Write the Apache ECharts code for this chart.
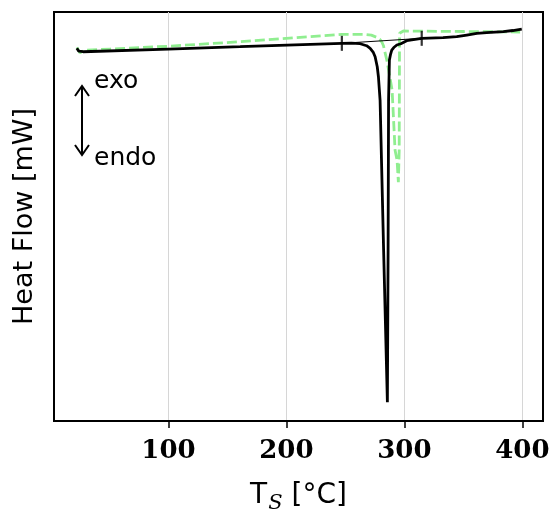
<!DOCTYPE html>
<html>
<head>
<meta charset="utf-8">
<script src="https://cdn.jsdelivr.net/npm/echarts@6/dist/echarts.min.js"></script>
<style>
html,body{margin:0;padding:0;background:#fff;}
#c{width:550px;height:509px;}
</style>
</head>
<body>
<div id="c"></div>
<script>
// Sample 1 (black, solid): temperature [°C], heat flow [arb.]
const blackT = [22.4,24.0,27.7,100,160.8,247,255,262.5,268,271,273.5,275.2,277,278,279.4,282.4,285.6,286.2,286.6,287.3,288.2,289.3,291,293.6,297,302,314.7,332.8,344.4,352.9,361.4,369.8,383.9,392,399.5];
const blackHF = [372.4,369.5,369.0,371.7,374.0,377.4,377.6,377.0,375.0,372.4,368.7,364.0,354.0,344.0,320.7,170.7,18.7,170.7,320.7,360.7,366.0,370.7,373.2,375.7,377.0,380.0,382.4,383.0,384.0,385.7,387.4,388.0,389.0,390.2,391.7];
// Sample 2 (light green, dashed)
const greenT = [22.4,25.0,29.0,50.6,100,160.8,247,265.3,272,276.6,279,280.8,282.3,283.1,285.1,289.6,292.1,293.8,294.9,295.6,295.9,297,299.2,350,398.1];
const greenHF = [373.4,368.0,370.5,371.7,374.5,379.0,386.4,386.4,385.6,383.4,381.5,379.0,375.0,370.7,360.7,330.7,270.7,260.7,238.7,270.7,387.4,389.0,389.7,389.2,388.7];
// Onset / endset markers on sample 1 and the interpolated baseline between them
const markT = [247, 314.7];
const markHF = [377.4, 382.4];
const xTicks = [100, 200, 300, 400];

const zip = (a, b) => a.map((v, i) => [v, b[i]]);

const chart = echarts.init(document.getElementById('c'), null, {renderer: 'canvas'});
chart.setOption({
  animation: false,
  backgroundColor: '#ffffff',
  grid: {left: 54, right: 7, top: 12, bottom: 88, outerBoundsMode: 'none', containLabel: false,
    show: true, borderColor: '#000', borderWidth: 2, backgroundColor: 'transparent'},
  xAxis: {
    type: 'value', min: 3, max: 417.5, splitNumber: 4,
    axisLine: {show: true, lineStyle: {color: '#000', width: 2}},
    axisTick: {show: true, length: 7, customValues: xTicks, lineStyle: {color: '#000', width: 1.5}},
    axisLabel: {show: true, customValues: xTicks, margin: 17, color: '#000',
      fontFamily: 'DejaVu Serif', fontWeight: 'bold', fontSize: 26},
    splitLine: {show: true, lineStyle: {color: '#d6d6d6', width: 1}},
    name: '{a|T}{s|S}{a| [°C]}', nameLocation: 'middle', nameGap: 57,
    nameTextStyle: {rich: {
      a: {fontFamily: 'DejaVu Sans', fontSize: 28, color: '#000'},
      s: {fontFamily: 'DejaVu Serif', fontStyle: 'italic', fontSize: 21, color: '#000', padding: [15, 0, 0, 1]}
    }}
  },
  yAxis: {
    type: 'value', min: 0, max: 408.7,
    axisLine: {show: true, lineStyle: {color: '#000', width: 2}},
    axisTick: {show: false}, axisLabel: {show: false}, splitLine: {show: false},
    name: 'Heat Flow [mW]', nameLocation: 'middle', nameGap: 16,
    nameTextStyle: {fontFamily: 'DejaVu Sans', fontSize: 27, color: '#000'}
  },
  series: [
    {type: 'line', name: 'green', data: zip(greenT, greenHF), showSymbol: false, symbol: 'none', z: 2,
      lineStyle: {color: '#90ee90', width: 2.8, type: [10, 4]}},
    {type: 'line', name: 'baseline', data: zip(markT, markHF), showSymbol: false, symbol: 'none', z: 3,
      lineStyle: {color: '#000', width: 1}},
    {type: 'line', name: 'black', data: zip(blackT, blackHF), showSymbol: false, symbol: 'none', z: 4,
      lineStyle: {color: '#000', width: 2.8}},
    {type: 'scatter', name: 'marks', data: zip(markT, markHF), symbol: 'rect', symbolSize: [2.2, 15], z: 5,
      itemStyle: {color: '#000'}}
  ],
  graphic: [
    {type: 'line', shape: {x1: 82, y1: 87, x2: 82, y2: 154}, style: {stroke: '#000', lineWidth: 2}},
    {type: 'polyline', shape: {points: [[75, 96], [82, 86], [89, 96]]}, style: {stroke: '#000', lineWidth: 2, fill: null}},
    {type: 'polyline', shape: {points: [[75, 145], [82, 155], [89, 145]]}, style: {stroke: '#000', lineWidth: 2, fill: null}},
    {type: 'text', left: 94, top: 69, style: {text: 'exo', font: '25px "DejaVu Sans"', fill: '#000'}},
    {type: 'text', left: 94, top: 146, style: {text: 'endo', font: '25px "DejaVu Sans"', fill: '#000'}}
  ]
});
</script>
</body>
</html>
